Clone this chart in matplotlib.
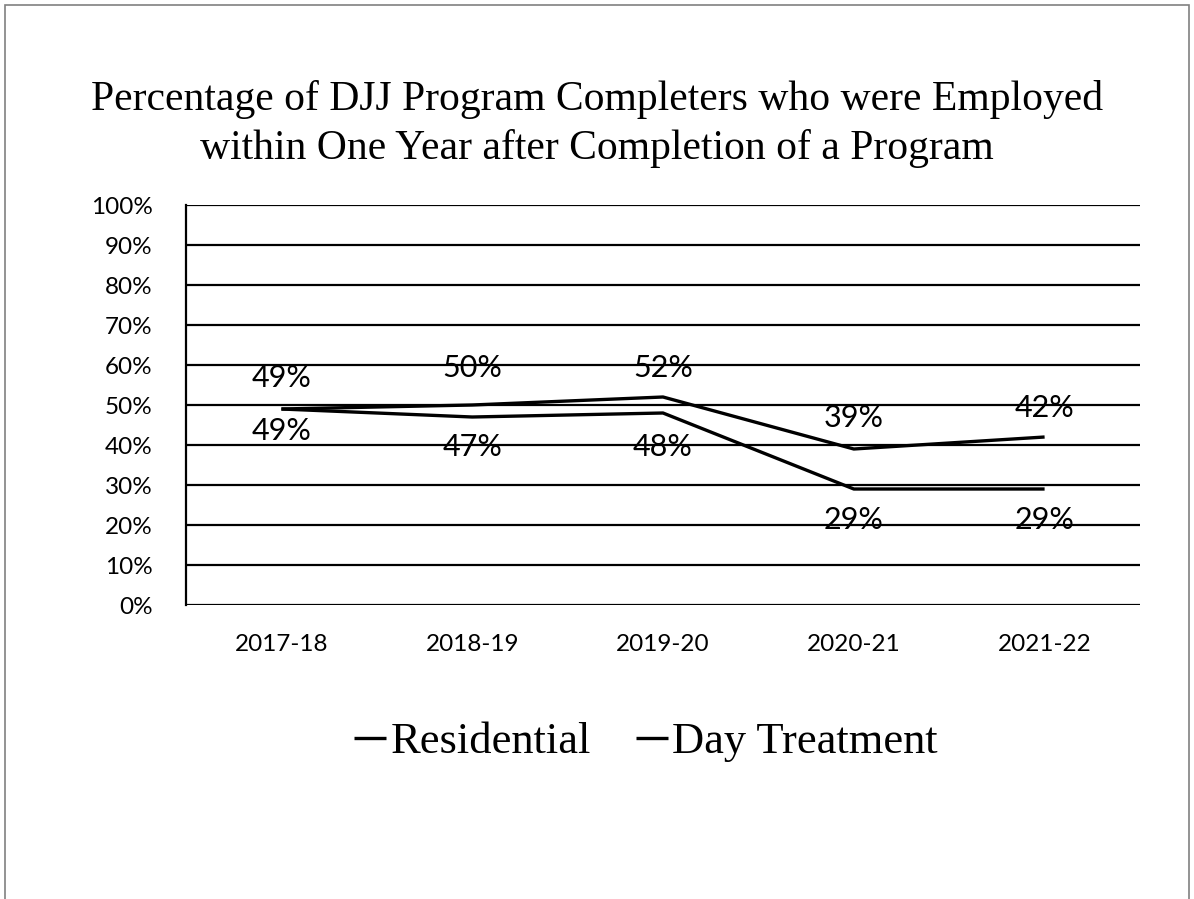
import numpy as np
import matplotlib.pyplot as plt
from matplotlib.patches import Rectangle

# Données du graphique
annees = ['2017-18', '2018-19', '2019-20', '2020-21', '2021-22']
residentiel = [49, 50, 52, 39, 42]
jour = [49, 47, 48, 29, 29]
graduations = [0, 10, 20, 30, 40, 50, 60, 70, 80, 90, 100]

titre = ('Percentage of DJJ Program Completers who were Employed\n'
         'within One Year after Completion of a Program')

# Décalage vertical des étiquettes (pixels) tel que placé dans l'original
decal_haut = [31, 37, 29, 31, 29]
decal_bas = [22, 30, 34, 31, 31]

serif = 'Liberation Serif'
sans = 'Lato'

fig = plt.figure(figsize=(11.94, 8.99), dpi=100)
ax = fig.add_axes([186/1194, 1 - 605/899, (1140 - 186)/1194, 400/899])

x = np.arange(len(annees))
ax.plot(x, residentiel, color='black', lw=2.4, label='Residential', solid_capstyle='butt')
ax.plot(x, jour, color='black', lw=2.4, label='Day Treatment', solid_capstyle='butt')

# Étiquettes de données : au-dessus pour la première série, en dessous pour la seconde
for xi, v, d in zip(x, residentiel, decal_haut):
    ax.annotate(f'{v}%', (xi, v), xytext=(0, d*0.72), textcoords='offset points',
                ha='center', va='center', fontsize=22, family=sans)
for xi, v, d in zip(x, jour, decal_bas):
    ax.annotate(f'{v}%', (xi, v), xytext=(0, -d*0.72), textcoords='offset points',
                ha='center', va='center', fontsize=22, family=sans)

ax.set_xlim(-0.5, len(annees) - 0.5)
ax.set_ylim(0, 100)
ax.set_yticks(graduations)
ax.set_yticklabels([f'{g}%' for g in graduations], family=sans, fontsize=17.5)
ax.set_xticks(x)
ax.set_xticklabels(annees, family=sans, fontsize=17.5)
ax.tick_params(axis='both', length=0)
ax.tick_params(axis='y', pad=24)
ax.tick_params(axis='x', pad=21)

for g in graduations:
    ax.axhline(g, color='black', lw=1.6, zorder=0)
for s in ['top', 'right', 'bottom']:
    ax.spines[s].set_visible(False)
ax.spines['left'].set_linewidth(1.6)

fig.text(0.5, 1 - 124/899, titre, ha='center', va='center', fontsize=30,
         family=serif, linespacing=1.36)

fig.legend(loc='center', bbox_to_anchor=(646/1194, 1 - 742/899), ncol=2,
           frameon=False, handlelength=0.72, handletextpad=0.1, columnspacing=1.0,
           prop={'family': serif, 'size': 32})

# Cadre gris autour du graphique
fig.patches.append(Rectangle((5/1194, -0.05), 1184/1194, 1 - 5/899 + 0.05,
                             transform=fig.transFigure, fill=False,
                             edgecolor='#808080', lw=1.2))

fig.savefig('out.png', dpi=100)
